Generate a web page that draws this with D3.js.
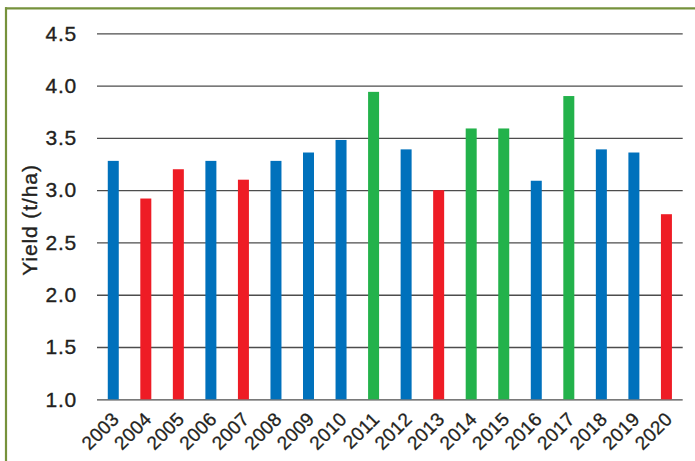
<!DOCTYPE html>
<html>
<head>
<meta charset="utf-8">
<script src="https://cdn.jsdelivr.net/npm/d3@7/dist/d3.min.js"></script>
<style>
  html, body { margin: 0; padding: 0; background: #fff; }
  svg { display: block; }
  text { font-family: "Liberation Sans", Arial, Helvetica, sans-serif; fill: #231f20; }
</style>
</head>
<body>
<svg id="chart" width="695" height="461"></svg>
<script>
const years = ["2003","2004","2005","2006","2007","2008","2009","2010","2011","2012","2013","2014","2015","2016","2017","2018","2019","2020"];
const yields = [3.28, 2.92, 3.2, 3.28, 3.1, 3.28, 3.36, 3.48, 3.94, 3.39, 3.0, 3.59, 3.59, 3.09, 3.9, 3.39, 3.36, 2.77];
const groups = ["avg","low","low","avg","low","avg","avg","avg","high","avg","low","high","high","avg","high","avg","avg","low"];
const yTicks = [1.0, 1.5, 2.0, 2.5, 3.0, 3.5, 4.0, 4.5];
const groupNames = ["avg","low","high"];
const groupColors = ["#0071bc","#ee1c25","#23b24b"];
const yLabel = "Yield (t/ha)";

const svg = d3.select("#chart");
const pLeft = 97, pRight = 682.7, pTop = 33.3, pBottom = 399.3;

const x = d3.scaleBand().domain(years).range([pLeft, pRight]).paddingInner(0.662).paddingOuter(0.331);
const y = d3.scaleLinear().domain([1, 4.5]).range([pBottom, pTop]);
const color = d3.scaleOrdinal().domain(groupNames).range(groupColors);

// frame (top + left olive border)
svg.append("line").attr("x1", 5).attr("x2", 695).attr("y1", 8.3).attr("y2", 8.3)
  .attr("stroke", "#76923c").attr("stroke-width", 2.2);
svg.append("line").attr("x1", 6).attr("x2", 6).attr("y1", 7.3).attr("y2", 461)
  .attr("stroke", "#76923c").attr("stroke-width", 2.2);

// gridlines via axis
const yAxis = d3.axisLeft(y).tickValues(yTicks).tickFormat(d3.format(".1f")).tickSize(-(pRight - pLeft)).tickPadding(20);
const gy = svg.append("g").attr("transform", `translate(${pLeft},0)`).call(yAxis);
gy.select(".domain").remove();
gy.selectAll(".tick line").attr("stroke", "#4d4d4d").attr("stroke-width", 1.3);
gy.selectAll(".tick text").attr("font-size", 21).attr("letter-spacing", 0.8)
  .attr("x", -20)
  .style("font-family", "'Liberation Sans', Arial, sans-serif").attr("fill", "#231f20")
  .attr("stroke", "#231f20").attr("stroke-width", 0.35);

// bars
svg.append("g").selectAll("rect").data(years).join("rect")
  .attr("x", d => x(d))
  .attr("width", x.bandwidth())
  .attr("y", (d, i) => y(yields[i]))
  .attr("height", (d, i) => y(1) - y(yields[i]))
  .attr("fill", (d, i) => color(groups[i]));

// x labels
const xAxis = d3.axisBottom(x).tickSize(0).tickPadding(0);
const gx = svg.append("g").attr("transform", `translate(0,${pBottom})`).call(xAxis);
gx.select(".domain").remove();
gx.selectAll(".tick text")
  .attr("font-size", 19).attr("letter-spacing", 0.3)
  .style("font-family", "'Liberation Sans', Arial, sans-serif").attr("fill", "#231f20")
  .attr("stroke", "#231f20").attr("stroke-width", 0.3)
  .attr("text-anchor", "end")
  .attr("dy", null)
  .attr("y", 0)
  .attr("transform", "translate(7,21) rotate(-45)");

// y label
svg.append("text")
  .attr("transform", "translate(37,220) rotate(-90)")
  .attr("text-anchor", "middle")
  .attr("font-size", 21)
  .attr("letter-spacing", 0.9)
  .attr("stroke", "#231f20").attr("stroke-width", 0.35)
  .text(yLabel);
</script>
</body>
</html>
